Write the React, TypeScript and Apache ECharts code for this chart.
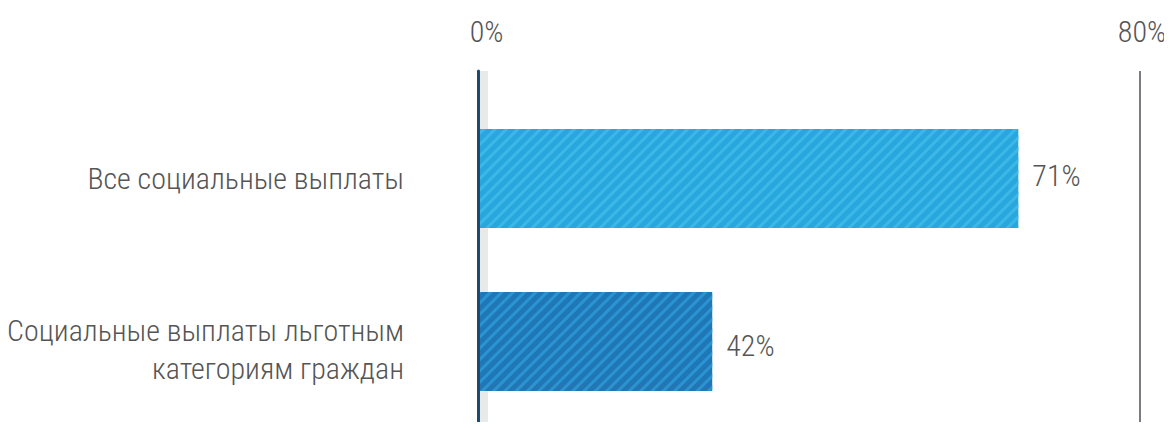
import React, { useEffect, useRef } from "react";
import * as echarts from "echarts";

const categories = [
  "Все социальные выплаты",
  "Социальные выплаты льготным\nкатегориям граждан",
];
const values = [71, 42];
const barColors = ["#28a7df", "#1f77b6"];
const stripeColors = ["#3cb8e6", "#2a94d2"];
const labelShift = [-3, 4];
const topTicks = [0, 80];

const FONT = "'Roboto Condensed', Roboto, sans-serif";
const FONT_SIZE = 30;
const TEXT_COLOR = "#555555";

export default function App() {
  const ref = useRef<HTMLDivElement>(null);
  useEffect(() => {
    if (!ref.current) return;
    const chart = echarts.init(ref.current, null, { renderer: "svg" });
    const txt = { fontFamily: FONT, fontWeight: 300, fontSize: FONT_SIZE, color: TEXT_COLOR };
    const option: any = {
      animation: false,
      backgroundColor: "#ffffff",
      textStyle: { fontFamily: FONT, fontWeight: 300 },
      grid: [
        { left: 478, right: 32, top: 71, bottom: 0, containLabel: false, outerBoundsMode: "none" },
        { left: 480, width: 665, top: 97, height: 326, containLabel: false, outerBoundsMode: "none" },
      ],
      graphic: [
        {
          type: "rect",
          z: 0,
          shape: { x: 480, y: 71, width: 8, height: 400 },
          style: { fill: "#e8e9e9" },
        },
      ],
      xAxis: [
        {
          gridIndex: 0,
          type: "value",
          position: "top",
          min: topTicks[0],
          max: topTicks[1],
          interval: topTicks[1] - topTicks[0],
          axisLine: { show: false },
          axisTick: { show: false },
          axisLabel: {
            formatter: (v: number) => (v === topTicks[0] ? `{a|${v}%}` : `{b|${v}%}`),
            ...txt,
            margin: 25,
            rich: {
              a: { ...txt, padding: [0, 0, 0, 17] },
              b: { ...txt, padding: [0, 0, 0, 4] },
            },
          },
          splitLine: {
            show: true,
            lineStyle: { color: ["#1b4b70", "#7b7b83"], width: 2 },
          },
          z: 1,
        },
        {
          gridIndex: 1,
          type: "value",
          min: 20,
          max: 83,
          show: false,
        },
      ],
      yAxis: [
        {
          gridIndex: 0,
          type: "value",
          axisLine: { show: true, lineStyle: { color: "#1b4b70", width: 3 } },
          axisTick: { show: false },
          axisLabel: { show: false },
          splitLine: { show: false },
          z: 5,
        },
        {
          gridIndex: 1,
          type: "category",
          inverse: true,
          data: categories,
          axisLine: { show: false },
          axisTick: { show: false },
          axisLabel: {
            ...txt,
            margin: 76,
            align: "right",
            formatter: (value: string) => {
              const lines = value.split("\n");
              if (lines.length === 1) return `{d|${value}}`;
              return `{s| }\n` + lines.map((l) => `{d|${l}}`).join("\n");
            },
            rich: {
              d: { ...txt, lineHeight: 38, align: "right" },
              s: { fontSize: 4, lineHeight: 16, align: "right" },
            },
          },
        },
      ],
      series: [
        {
          type: "bar",
          xAxisIndex: 1,
          yAxisIndex: 1,
          barWidth: 99,
          clip: true,
          z: 3,
          data: values.map((v, i) => ({
            value: v,
            label: { offset: [0, labelShift[i]] },
            itemStyle: {
              color: barColors[i],
              decal: {
                symbol: "rect",
                symbolSize: 1,
                dashArrayX: [1, 0],
                dashArrayY: [2.5, 4.5],
                rotation: -Math.PI / 4,
                color: stripeColors[i],
              },
            },
          })),
          label: {
            show: true,
            position: "right",
            distance: 14,
            formatter: "{c}%",
            ...txt,
          },
        },
      ],
    };
    chart.setOption(option);
    return () => chart.dispose();
  }, []);
  return <div ref={ref} style={{ width: 1172, height: 430, margin: -8 }} />;
}
